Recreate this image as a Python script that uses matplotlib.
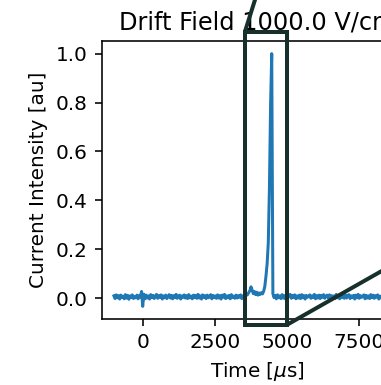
import numpy as np
import matplotlib
matplotlib.use("Agg")
import matplotlib.pyplot as plt
from matplotlib.patches import Rectangle, ConnectionPatch

# Sampling of the current trace (µs), one sample every 40 µs
t_start, t_stop, t_step = -1000, 9000, 40

# Current intensity in thousandths of the peak, split by region of the trace
pre_trigger = [9, -2, 13, 1, 10, -4, 12, 3, 8, -3, 14, 0, 11, -5, 9, 2, 13, -2,
               7, 1, 12, -3, 10, 4]
trigger_glitch = [27, -34, 16]
drift_baseline = [
    -3, 12, 0, 9, -4, 14, 2, 11, -2, 8,
    15, -1, 10, 3, 13, -4, 9, 1, 12, -2,
    7, 14, 0, 11, -3, 10, 2, 15, -1, 8,
    12, -4, 9, 3, 13, 0, 10, -2, 14, 1,
    8, -3, 12, 2, 11, -1, 15, 0, 9, -4,
    13, 3, 10, -2, 12, 1, 8, 14, -3, 11,
    2, 9, -1, 13, 0, 10, -4, 12, 3, 15,
    -2, 9, 1, 11, -3, 14, 2, 8, -1, 12,
    0, 10, 3, 13, -2, 9, 11, 1, 14,
]
precursor = [14, 22, 30, 46, 33, 18, 27, 14, 24, 12, 21, 15, 22, 17]
pulse = [28, 48, 90, 140, 225, 450, 790, 1000, 18]
tail_baseline = [
    2, 11, -3, 13, 1, 9, -2, 14, 0, 10,
    -4, 12, 3, 8, 15, -1, 11, 2, 13, -3,
    9, 0, 12, -2, 14, 1, 10, -4, 11, 3,
    8, 13, -1, 9, 2, 15, -3, 10, 0, 12,
    -2, 11, 3, 14, -1, 8, 12, 0, 13, -4,
    10, 2, 9, -2, 15, 1, 11, -3, 12, 3,
    8, -1, 13, 0, 10, 14, -2, 9, 2, 11,
    -4, 12, 1, 15, -1, 10, 3, 8, 13, -3,
    11, 0, 9, -2, 14, 2, 12, -1, 10, 3,
    13, -4, 8, 1, 11, 15, -2, 9, 0, 12,
    3, 10, -3, 14, 1, 11, -1, 8, 13, 2,
    -2, 9,
]

# Zoom window around the pulse: (t0, t1, i0, i1)
zoom_window = (3550, 5000, -0.11, 1.09)

title = "Drift Field 1000.0 V/cm"
xlabel = r"Time [$\mu$s]"
ylabel = "Current Intensity [au]"

time = np.arange(t_start, t_stop + 1, t_step)
current = np.array(pre_trigger + trigger_glitch + drift_baseline + precursor
                   + pulse + tail_baseline) / 1000.0

DPI = 144
fig = plt.figure(figsize=(381 / DPI, 385 / DPI), dpi=DPI)
ax = fig.add_axes([0.2669, 0.1714, 0.8171, 0.7221])
ax.plot(time, current, color="C0", lw=1.5)
ax.set_xlim(-1424, 9385)
ax.set_title(title)
ax.set_xlabel(xlabel)
ax.set_ylabel(ylabel)

# Zoomed panel sits off to the upper right; only its indicator is in view
axins = fig.add_axes([1.168, 1.558, 2.079, 1.005])
axins.plot(time, current, color="C0", lw=1.5)
t0, t1, i0, i1 = zoom_window
axins.set_xlim(t0, t1)
axins.set_ylim(i0, i1)

edge = "#17302c"
frame = Rectangle((t0, i0), t1 - t0, i1 - i0, fill=False, edgecolor=edge,
                  linewidth=2, zorder=4.99, clip_on=False)
ax.add_patch(frame)
for corner_main, corner_ins in [((t0, i1), (0, 1)), ((t1, i0), (1, 0))]:
    link = ConnectionPatch(xyA=corner_main, coordsA=ax.transData,
                           xyB=corner_ins, coordsB=axins.transAxes,
                           color=edge, linewidth=2, zorder=4.99)
    fig.add_artist(link)

fig.savefig("out.png", dpi=DPI)
